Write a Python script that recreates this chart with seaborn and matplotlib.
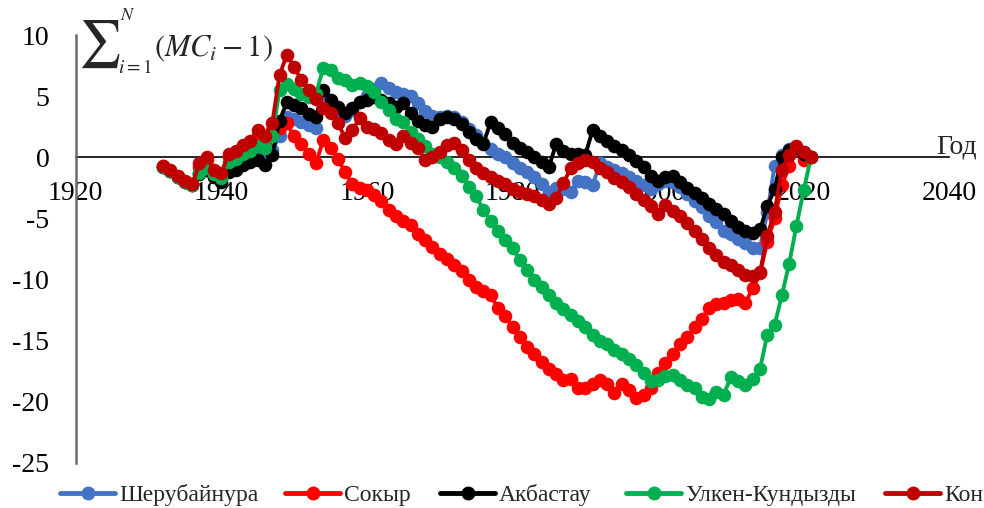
import matplotlib
matplotlib.use("Agg")
import matplotlib.pyplot as plt
from matplotlib.lines import Line2D
import pandas as pd
import seaborn as sns

# ---- data: cumulative sums of modular-coefficient deviations, by year ----
years = list(range(1932, 2022))

stations = ["Шерубайнура", "Сокыр", "Акбастау", "Улкен-Кундызды", "Кон"]
colors = ["#4472C4", "#FF0000", "#000000", "#00B050", "#C00000"]

sherubainura = [
    -0.8, -1.1, -1.6, -2.0, -2.3, -1.3, -1.0, -1.5, -1.8, -0.8, -0.6, -0.2, 0.0, 0.3, 0.0, 0.6,
    1.7, 3.3, 3.1, 2.9, 2.6, 2.4, 5.2, 4.5, 3.9, 3.4,
    3.9, 4.5, 5.0, 5.6, 6.1, 5.7, 5.3, 5.2, 5.0, 4.4,
    3.8, 3.4, 3.3, 3.4, 3.3, 2.9, 2.3, 1.8, 1.2, 0.7,
    0.3, 0.0, -0.5, -0.9, -1.2, -1.6, -2.2, -2.8, -2.5, -2.6,
    -2.8, -1.9, -2.0, -2.3, -0.5, -0.8, -1.0, -1.3, -1.6, -1.9,
    -2.3, -2.6, -2.2, -1.9, -2.0, -2.4, -3.0, -3.6, -4.1, -4.8,
    -5.3, -6.0, -6.3, -6.7, -7.0, -7.4, -7.4, -4.5, -0.7, 0.2,
    0.7, 0.8, 0.4, 0.0,
]

sokyr = [
    -0.7, -1.1, -1.6, -2.0, -2.2, -0.8, -0.2, -1.2, -1.5, 0.0, 0.3, 0.7, 1.0, 1.8, 1.3, 2.2,
    2.4, 2.8, 1.7, 1.1, 0.3, -0.5, 1.4, 0.8, -0.1, -1.2,
    -2.2, -2.5, -2.7, -3.1, -3.6, -4.3, -4.8, -5.2, -5.5, -6.3,
    -6.8, -7.3, -7.9, -8.3, -8.8, -9.3, -10.0, -10.6, -10.9, -11.3,
    -12.3, -13.0, -13.9, -14.7, -15.5, -16.1, -16.7, -17.3, -17.7, -18.2,
    -18.1, -18.9, -18.9, -18.5, -18.2, -18.5, -19.3, -18.5, -19.0, -19.7,
    -19.4, -18.9, -17.6, -16.8, -16.1, -15.3, -14.7, -13.9, -13.2, -12.3,
    -12.0, -11.9, -11.7, -11.6, -11.9, -10.7, -9.5, -6.9, -5.0, -2.3,
    -0.7, 0.6, -0.2, 0.0,
]

akbastau = [
    -0.8, -1.1, -1.6, -2.0, -2.3, -1.4, -1.0, -1.6, -2.0, -1.2, -1.0, -0.6, -0.4, -0.2, -0.6, 0.2,
    3.0, 4.5, 4.3, 4.0, 3.5, 3.3, 5.5, 4.7, 4.1, 3.6,
    4.0, 4.5, 4.7, 4.9, 4.7, 4.4, 4.1, 4.4, 3.6, 3.0,
    2.6, 2.5, 3.1, 3.3, 3.1, 2.7, 2.1, 1.5, 1.1, 2.9,
    2.4, 1.9, 1.2, 0.8, 0.4, 0.0, -0.4, -0.8, 1.1, 0.5,
    0.3, 0.3, 0.2, 2.2, 1.7, 1.3, 0.9, 0.6, 0.2, -0.3,
    -0.8, -1.5, -1.9, -1.6, -1.5, -2.0, -2.5, -2.9, -3.3, -3.8,
    -4.2, -4.6, -5.2, -5.7, -6.0, -6.2, -5.9, -4.0, -2.6, 0.0,
    0.6, 0.8, 0.3, 0.0,
]

ulken_kundyzdy = [
    -0.8, -1.1, -1.6, -2.0, -2.3, -1.3, -0.9, -1.4, -1.7, -0.4, -0.1, 0.3, 0.5, 0.9, 0.8, 1.7,
    5.5, 6.0, 5.6, 5.2, 4.9, 5.2, 7.3, 7.1, 6.5, 6.3,
    5.9, 6.1, 5.8, 5.3, 4.5, 3.9, 3.1, 2.9, 2.1, 1.5,
    0.9, 0.3, 0.0, -0.4, -0.9, -1.5, -2.4, -3.2, -4.3, -5.2,
    -6.0, -6.8, -7.4, -8.4, -9.2, -10.0, -10.6, -11.3, -11.9, -12.4,
    -12.9, -13.4, -13.9, -14.5, -15.0, -15.3, -15.8, -16.1, -16.5, -17.0,
    -17.6, -18.3, -18.2, -17.9, -17.8, -18.2, -18.6, -18.9, -19.6, -19.8,
    -19.2, -19.4, -18.0, -18.3, -18.6, -18.1, -17.3, -14.5, -13.7, -11.3,
    -8.7, -5.6, -2.7, 0.0,
]

kon = [
    -0.7, -1.0, -1.5, -1.9, -2.2, -0.5, 0.0, -1.0, -1.3, 0.3, 0.5, 1.0, 1.3, 2.2, 1.7, 2.8,
    6.7, 8.4, 7.4, 6.3, 5.5, 4.8, 4.0, 3.6, 2.8, 1.6,
    2.2, 3.2, 2.5, 2.3, 2.0, 1.4, 1.1, 1.7, 1.2, 0.8,
    -0.25, 0.0, 0.4, 1.0, 1.2, 0.6, -0.25, -0.9, -1.3, -1.6,
    -1.9, -2.2, -2.6, -2.8, -3.0, -3.2, -3.5, -3.8, -3.3, -2.1,
    -0.9, -0.5, -0.2, -0.4, -0.9, -1.2, -1.7, -2.0, -2.4, -3.0,
    -3.5, -4.0, -4.6, -3.9, -4.4, -4.8, -5.4, -6.0, -6.7, -7.4,
    -8.0, -8.6, -8.8, -9.2, -9.6, -9.7, -9.4, -6.4, -4.5, -1.0,
    0.2, 0.9, 0.4, 0.0,
]

x_ticks = [1920, 1940, 1960, 1980, 2000, 2020, 2040]
y_ticks = [-25, -20, -15, -10, -5, 0, 5, 10]

series = [sherubainura, sokyr, akbastau, ulken_kundyzdy, kon]
df = pd.DataFrame({
    "year": years * len(stations),
    "value": [v for s in series for v in s],
    "station": [name for name in stations for _ in years],
})

# ---- style ----
sns.set_style("white")
plt.rcParams["font.family"] = ["Liberation Serif", "DejaVu Serif"]
plt.rcParams["mathtext.fontset"] = "stix"
plt.rcParams["axes.unicode_minus"] = False

W, H = 984, 508
fig = plt.figure(figsize=(W / 100, H / 100), dpi=100)
x0, x1, ytop, ybot = 75.7, 949.3, 35, 463
ax = fig.add_axes([x0 / W, 1 - ybot / H, (x1 - x0) / W, (ybot - ytop) / H])

sns.lineplot(
    data=df, x="year", y="value", hue="station", hue_order=stations,
    palette=colors, marker="o", markersize=9.8, markeredgewidth=0,
    linewidth=2.8, legend=False, estimator=None, sort=False, ax=ax,
)

ax.set_xlim(1920, 2040)
ax.set_ylim(-25, 10)
ax.set_xticks(x_ticks)
ax.set_yticks(y_ticks)
ax.set_xticklabels([str(t) for t in x_ticks])
ax.set_yticklabels([str(t) for t in y_ticks])
ax.set_xlabel("")
ax.set_ylabel("")

for side in ("top", "right"):
    ax.spines[side].set_visible(False)
ax.spines["bottom"].set_position(("data", 0))
ax.spines["bottom"].set_color("black")
ax.spines["bottom"].set_linewidth(1.2)
ax.spines["bottom"].set_zorder(0.5)
ax.spines["left"].set_color("#6b6b6b")
ax.spines["left"].set_linewidth(1.8)
ax.tick_params(axis="x", length=0, pad=17, labelsize=20, colors="black")
ax.tick_params(axis="y", length=0, pad=19, labelsize=20, colors="black")

# axis caption at the end of the horizontal axis
ax.text(2041, 0.3, "Год", ha="center", va="baseline", fontsize=20, clip_on=False)

# cumulative-sum formula as the vertical-axis caption
fig.text(78 / W, 1 - 44 / H, r"$\sum$", fontsize=34, ha="left", va="center")
fig.text(120 / W, 1 - 16 / H, r"$N$", fontsize=13, ha="left", va="center")
fig.text(118 / W, 1 - 68 / H, r"$i=1$", fontsize=14, ha="left", va="center")
fig.text(154 / W, 1 - 48 / H, r"$(MC_i - 1)$", fontsize=22, ha="left", va="center")

# legend entries, one per station, laid out along the bottom edge
legend_x = [60, 285, 440, 626, 885]
for name, c, lx in zip(stations, colors, legend_x):
    h = Line2D([0], [0], color=c, lw=3.5, marker="o", markersize=10, markeredgewidth=0)
    fig.legend(
        [h], [name], loc="center left", bbox_to_anchor=(lx / W, 1 - 495 / H),
        frameon=False, handlelength=2.35, handletextpad=0.15,
        borderpad=0, borderaxespad=0, fontsize=17,
    )

fig.savefig("out.png", dpi=100)
